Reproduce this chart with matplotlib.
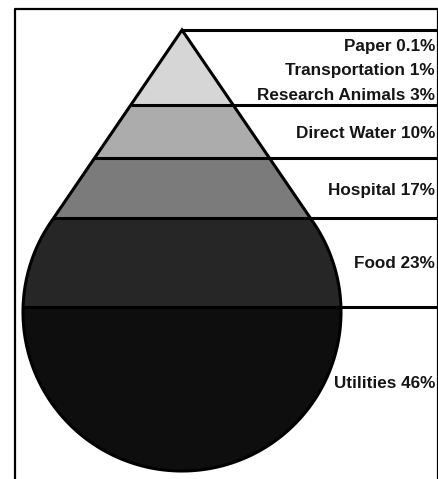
#!/usr/bin/env python3
# Water drop chart: share of water use by category

import numpy as np
import matplotlib.pyplot as plt
from matplotlib.patches import Polygon, Rectangle
from matplotlib.path import Path

# =============================================================
# Data
labels = ['Paper 0.1%', 'Transportation 1%', 'Research Animals 3%',
          'Direct Water 10%', 'Hospital 17%', 'Food 23%', 'Utilities 46%']
label_y = [46, 70, 95, 133, 190, 263, 383]

# bands of the drop, top to bottom (pixel rows)
band_top = [30, 105, 158, 218, 307]
band_bottom = [105, 158, 218, 307, 475]
band_color = ['#d6d6d6', '#acacac', '#7b7b7b', '#262626', '#0e0e0e']

# drop geometry
apex = (182, 30)
cx, cy, r = 182, 312, 159

# =============================================================
fig = plt.figure(figsize=(4.39, 4.79), dpi=100)
ax = fig.add_axes([0, 0, 1, 1])
ax.set_xlim(0, 439)
ax.set_ylim(479, 0)
ax.axis('off')

# drop outline: apex, tangent points, lower arc of circle
d = cy - apex[1]
th = np.arcsin(r / d)
ang = np.linspace(-th, np.pi + th, 300)
arc_x = cx + r * np.cos(ang)
arc_y = cy + r * np.sin(ang)
pts = [apex] + list(zip(arc_x, arc_y)) + [apex]
drop = Polygon(pts, closed=True, facecolor='none', edgecolor='black',
               linewidth=2.2, zorder=3)
ax.add_patch(drop)

clip = Polygon(pts, closed=True, transform=ax.transData)
for top, bot, col in zip(band_top, band_bottom, band_color):
    rect = Rectangle((0, top), 439, bot - top, facecolor=col,
                     edgecolor='none', zorder=1)
    ax.add_patch(rect)
    rect.set_clip_path(clip)

# boundary lines, from the drop edge out to the frame
path = Path(pts)
for y in band_top:
    xs = np.linspace(0, 439, 2000)
    inside = path.contains_points(np.column_stack([xs, np.full_like(xs, y + 0.5)]))
    x0 = xs[inside].min() if inside.any() else apex[0]
    ax.plot([x0, 438], [y, y], color='black', linewidth=2.2,
            solid_capstyle='butt', zorder=2)

# labels
for lab, y in zip(labels, label_y):
    ax.text(435, y, lab, ha='right', va='center', fontsize=12.3,
            fontweight='bold', family='Liberation Sans', color='#151515')

# frame
ax.plot([15, 15, 438, 438], [479, 9, 9, 479], color='black', linewidth=1.6,
        zorder=4)

fig.savefig('out.png', dpi=100)
